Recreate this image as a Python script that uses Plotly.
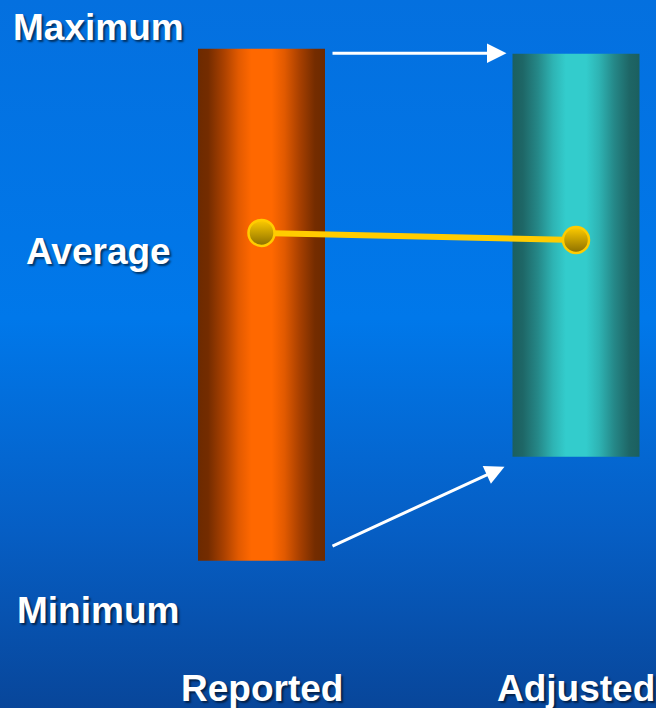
import plotly.graph_objects as go

# ---- data ----
categories = ["Reported", "Adjusted"]
minimum = [20.8, 35.5]
average = [67.1, 66.1]
maximum = [93.1, 92.4]
row_labels = ["Maximum", "Average", "Minimum"]

W, H = 656, 708
x_range = [-261.5 / 314.5, 1 + 80 / 314.5]
y_range = [0, 100]
half_w = 63.5 / 314.5
px_x = (x_range[1] - x_range[0]) / W
px_y = (y_range[1] - y_range[0]) / H

xs = list(range(len(categories)))

fig = go.Figure()

# background gradient
fig.add_trace(go.Scatter(
    x=[x_range[0], x_range[1], x_range[1], x_range[0], x_range[0]],
    y=[y_range[0], y_range[0], y_range[1], y_range[1], y_range[0]],
    mode="none", fill="toself",
    fillgradient=dict(type="vertical",
                      colorscale=[[0, "#08469a"], [0.25, "#065ec4"], [0.55, "#0078ea"], [1, "#0470df"]]),
    hoverinfo="skip", showlegend=False))

bar_scales = [
    [[0, "#6c2a00"], [0.08, "#742c00"], [0.2, "#a84000"], [0.32, "#e25a00"], [0.42, "#ff6800"],
     [0.58, "#ff6800"], [0.68, "#e25a00"], [0.8, "#a84000"], [0.92, "#742c00"], [1, "#6c2a00"]],
    [[0, "#1b5f5f"], [0.08, "#1e6666"], [0.2, "#258888"], [0.32, "#2eb4b4"], [0.42, "#33cccc"],
     [0.58, "#33cccc"], [0.68, "#2eb4b4"], [0.8, "#258888"], [0.92, "#1e6666"], [1, "#1b5f5f"]],
]
for i, c in enumerate(categories):
    x0, x1 = xs[i] - half_w, xs[i] + half_w
    fig.add_trace(go.Scatter(
        x=[x0, x1, x1, x0, x0],
        y=[minimum[i], minimum[i], maximum[i], maximum[i], minimum[i]],
        mode="none", fill="toself",
        fillgradient=dict(type="horizontal", colorscale=bar_scales[i]),
        hoverinfo="skip", showlegend=False, name=c))

# average line
fig.add_trace(go.Scatter(
    x=xs, y=average, mode="lines+markers",
    line=dict(color="#ffcc00", width=6),
    marker=dict(size=26, color="#ffcc00",
                gradient=dict(type="vertical", color="#8a6e00"),
                line=dict(color="#ffcc00", width=2.5)),
    hoverinfo="skip", showlegend=False))

# arrows
top_y = (maximum[0] + maximum[1]) / 2 - 2 * px_y
fig.add_annotation(
    x=xs[1] - half_w - 6 * px_x, y=top_y,
    ax=xs[0] + half_w + 6 * px_x, ay=top_y,
    xref="x", yref="y", axref="x", ayref="y", text="",
    showarrow=True, arrowhead=2, arrowsize=1.3, arrowwidth=3, arrowcolor="white")
fig.add_annotation(
    x=xs[1] - half_w - 8 * px_x, y=minimum[1] - 10 * px_y,
    ax=xs[0] + half_w + 6 * px_x, ay=minimum[0] + 14 * px_y,
    xref="x", yref="y", axref="x", ayref="y", text="",
    showarrow=True, arrowhead=2, arrowsize=1.3, arrowwidth=3, arrowcolor="white")

font = dict(family="Liberation Sans, Arial, sans-serif", size=37, color="white",
            weight="bold", shadow="2px 2px 2px rgba(0,0,0,0.55)")

row_pos = [(11, 28), (24, 252), (15, 610)]
for lab, (lx, ly) in zip(row_labels, row_pos):
    fig.add_annotation(x=lx / W, y=1 - ly / H, xref="paper", yref="paper",
                       text=lab, showarrow=False, xanchor="left", yanchor="middle", font=font)
for i, c in enumerate(categories):
    fig.add_annotation(x=xs[i], y=1 - 688 / H, xref="x", yref="paper",
                       text=c, showarrow=False, xanchor="center", yanchor="middle", font=font)

fig.update_layout(
    width=W, height=H, margin=dict(l=0, r=0, t=0, b=0),
    paper_bgcolor="#0570e0", plot_bgcolor="#0570e0",
    xaxis=dict(range=x_range, visible=False, fixedrange=True),
    yaxis=dict(range=y_range, visible=False, fixedrange=True),
    hovermode=False)

fig.write_html("out.html")
